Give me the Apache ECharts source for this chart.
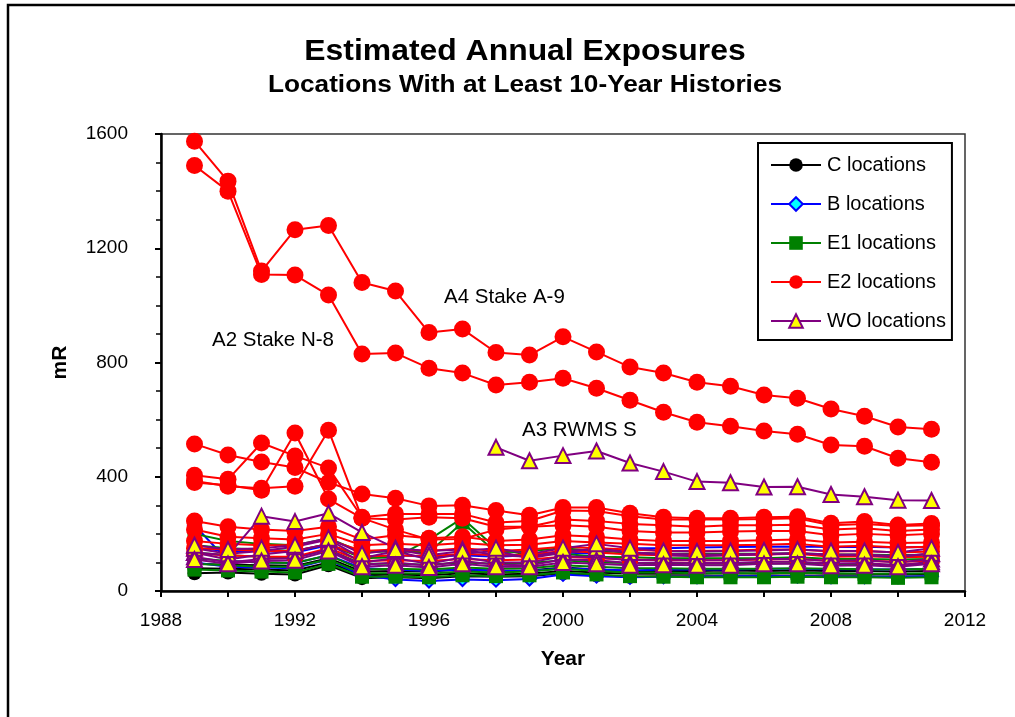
<!DOCTYPE html>
<html>
<head>
<meta charset="utf-8">
<script src="https://cdn.jsdelivr.net/npm/echarts@6/dist/echarts.min.js"></script>
<style>
  html, body { margin: 0; padding: 0; background: #fff; }
  #chart { width: 1015px; height: 717px; }
</style>
</head>
<body>
<div id="chart"></div>
<script>
// Sampling years
const years = [1989, 1990, 1991, 1992, 1993, 1994, 1995, 1996, 1997, 1998, 1999, 2000,
               2001, 2002, 2003, 2004, 2005, 2006, 2007, 2008, 2009, 2010, 2011];

// Annual exposure (mR) per location, grouped by area
const cLocations = [
  [62, 65, 60, 58, 90, 45, 48, 45, 52, 50, 52, 62, 55, 50, 52, 52, 52, 52, 52, 52, 52, 50, 52],
  [80, 78, 75, 72, 100, 55, 58, 55, 62, 58, 60, 70, 65, 60, 60, 60, 62, 60, 62, 60, 60, 58, 60],
  [95, 92, 90, 88, 115, 68, 70, 68, 75, 70, 72, 82, 75, 70, 70, 70, 72, 70, 72, 70, 70, 68, 70]
];
const bLocations = [
  [230, 105, 100, 98, 125, 80, 75, 70, 75, 72, 70, 80, 75, 72, 75, 75, 75, 78, 78, 76, 76, 75, 78],
  [100, 85, 82, 80, 110, 55, 40, 35, 40, 38, 42, 58, 52, 48, 50, 50, 52, 52, 52, 50, 50, 50, 52],
  [150, 140, 140, 135, 160, 120, 125, 120, 125, 120, 125, 135, 130, 150, 150, 152, 154, 155, 156, 154, 155, 152, 155]
];
const e1Locations = [
  [75, 72, 68, 65, 95, 50, 50, 48, 55, 52, 55, 65, 58, 52, 50, 48, 48, 48, 50, 48, 48, 46, 48],
  [95, 90, 85, 85, 110, 62, 62, 60, 68, 65, 68, 78, 70, 65, 65, 62, 62, 62, 64, 62, 60, 60, 62],
  [115, 105, 100, 98, 125, 75, 78, 75, 82, 78, 80, 90, 85, 80, 80, 78, 78, 78, 80, 78, 76, 75, 78],
  [135, 125, 120, 118, 145, 95, 95, 92, 100, 95, 98, 108, 100, 98, 98, 95, 95, 95, 98, 95, 92, 92, 95],
  [160, 150, 145, 140, 165, 115, 118, 180, 255, 150, 125, 130, 120, 118, 115, 115, 115, 115, 118, 112, 112, 110, 112],
  [200, 175, 165, 160, 185, 135, 140, 135, 240, 135, 140, 150, 140, 135, 130, 130, 130, 130, 132, 128, 128, 125, 128]
];
const e2Locations = [
  // A4 Stake A-9
  [1575, 1435, 1120, 1265, 1280, 1080, 1050, 905, 917, 835, 826, 890, 837, 784, 763, 731, 717, 686, 675, 637, 612, 574, 566],
  // A2 Stake N-8
  [1490, 1400, 1108, 1106, 1036, 830, 833, 780, 763, 721, 731, 745, 710, 668, 626, 591, 577, 560, 549, 511, 507, 465, 451],
  [515, 476, 452, 432, 380, 340, 325, 298, 300, 282, 265, 292, 292, 272, 258, 255, 255, 258, 260, 237, 243, 231, 236],
  [405, 391, 518, 473, 431, 258, 270, 270, 270, 240, 245, 282, 280, 262, 250, 250, 250, 252, 255, 230, 235, 228, 230],
  [380, 370, 353, 553, 322, 255, 250, 258, 255, 225, 225, 250, 245, 235, 230, 225, 230, 230, 232, 215, 220, 210, 215],
  [385, 367, 360, 367, 563, 255, 215, 180, 182, 215, 225, 230, 225, 210, 205, 205, 208, 210, 210, 195, 200, 195, 200],
  [245, 225, 215, 210, 225, 180, 195, 185, 190, 175, 180, 195, 190, 180, 175, 175, 175, 178, 180, 170, 172, 168, 170],
  [215, 190, 185, 180, 200, 160, 165, 160, 168, 160, 162, 175, 170, 165, 160, 160, 160, 162, 165, 155, 158, 152, 155],
  [175, 165, 160, 160, 180, 140, 145, 140, 150, 140, 145, 155, 150, 145, 140, 140, 142, 145, 145, 138, 140, 135, 138],
  [150, 145, 140, 140, 165, 120, 125, 122, 130, 125, 128, 140, 135, 128, 125, 125, 125, 128, 130, 120, 122, 118, 120],
  [130, 125, 120, 120, 150, 105, 108, 105, 112, 108, 110, 120, 115, 110, 108, 108, 108, 110, 112, 105, 106, 102, 105]
];
const woLocations = [
  // A3 RWMS S
  [null, null, null, null, null, null, null, null, null, 503, 456, 474, 490, 448, 418, 383, 379, 364, 365, 338, 330, 318, 317],
  [135, 125, 262, 243, 272, 205, 150, 140, 145, 125, 120, 140, 145, 135, 130, 128, 128, 130, 132, 128, 128, 122, 130],
  [135, 110, 128, 140, 165, 100, 115, 95, 118, 100, 100, 122, 118, 108, 110, 108, 108, 112, 112, 105, 108, 100, 112],
  [150, 130, 140, 155, 180, 115, 140, 110, 130, 140, 115, 135, 150, 135, 125, 122, 125, 128, 132, 125, 125, 118, 132],
  [120, 100, 112, 115, 145, 92, 100, 88, 105, 92, 90, 110, 108, 98, 100, 98, 98, 102, 102, 96, 98, 90, 102],
  [160, 145, 150, 160, 185, 130, 145, 125, 140, 150, 130, 150, 165, 150, 140, 138, 140, 142, 145, 140, 140, 135, 150],
  [110, 95, 105, 108, 140, 85, 90, 82, 95, 85, 85, 100, 95, 90, 92, 90, 90, 95, 95, 88, 90, 85, 95]
];

const xTicks = [1988, 1992, 1996, 2000, 2004, 2008, 2012];
const yTicks = [0, 400, 800, 1200, 1600];

const groups = [
  { name: 'C locations',  rows: cLocations,  line: '#000000', symbol: 'circle',   size: 14, fill: '#000000', border: null },
  { name: 'B locations',  rows: bLocations,  line: '#0000ff', symbol: 'diamond',  size: 13, fill: '#00ffff', border: '#0000ff' },
  { name: 'E1 locations', rows: e1Locations, line: '#008000', symbol: 'rect',     size: 14, fill: '#008000', border: null },
  { name: 'E2 locations', rows: e2Locations, line: '#ff0000', symbol: 'circle',   size: 17, fill: '#ff0000', border: null },
  { name: 'WO locations', rows: woLocations, line: '#800080', symbol: 'triangle', size: 15, fill: '#ffff00', border: '#800080' }
];

const series = [];
groups.forEach(g => {
  g.rows.forEach(row => {
    series.push({
      name: g.name,
      type: 'line',
      data: row.map((v, i) => [years[i], v]),
      symbol: g.symbol,
      symbolSize: g.size,
      showAllSymbol: true,
      connectNulls: false,
      lineStyle: { color: g.line, width: 2 },
      itemStyle: {
        color: g.fill,
        borderColor: g.border || g.fill,
        borderWidth: g.border ? 2 : 0
      },
      emphasis: { disabled: true },
      animation: false
    });
  });
});

const FONT = '"Liberation Sans", Arial, sans-serif';
const chart = echarts.init(document.getElementById('chart'), null, { renderer: 'canvas' });

chart.setOption({
  backgroundColor: '#ffffff',
  animation: false,
  grid: {
    left: 161, right: 50, top: 134, bottom: 126,
    show: true, borderColor: '#333', borderWidth: 1.5, backgroundColor: 'transparent'
  },
  legend: {
    data: groups.map(g => g.name),
    orient: 'vertical',
    left: 758, top: 143,
    padding: [12, 6, 9, 12],
    itemWidth: 50, itemHeight: 17, itemGap: 19,
    borderColor: '#000', borderWidth: 2,
    backgroundColor: '#fff',
    textStyle: { fontFamily: FONT, fontSize: 20, color: '#000', padding: [0, 0, 0, 1] },
    selectedMode: false
  },
  xAxis: {
    type: 'value',
    min: 1988, max: 2012, interval: 2,
    name: 'Year', nameLocation: 'middle', nameGap: 58,
    nameTextStyle: { fontFamily: FONT, fontSize: 21, fontWeight: 'bold', color: '#000' },
    axisLine: { show: true, onZero: false, lineStyle: { color: '#000', width: 2.5 } },
    axisTick: { show: true, inside: false, length: 6, lineStyle: { color: '#000', width: 2 } },
    axisLabel: {
      fontFamily: FONT, fontSize: 19, color: '#000', margin: 20,
      formatter: v => (xTicks.indexOf(v) >= 0 ? String(v) : '')
    },
    splitLine: { show: false }
  },
  yAxis: {
    type: 'value',
    min: 0, max: 1600, interval: 400,
    name: 'mR', nameLocation: 'middle', nameGap: 90, nameRotate: 90,
    nameTextStyle: { fontFamily: FONT, fontSize: 21, fontWeight: 'bold', color: '#000' },
    axisLine: { show: true, lineStyle: { color: '#000', width: 2.5 } },
    axisTick: { show: true, inside: false, length: 6, lineStyle: { color: '#000', width: 2 } },
    minorTick: { show: true, splitNumber: 4, length: 5, lineStyle: { color: '#000', width: 1.5 } },
    axisLabel: {
      fontFamily: FONT, fontSize: 19, color: '#000', margin: 33,
      formatter: v => (yTicks.indexOf(v) >= 0 ? String(v) : '')
    },
    splitLine: { show: false }
  },
  graphic: [
    {
      type: 'rect', silent: true, z: -10,
      shape: { x: 8, y: 5, width: 1100, height: 800 },
      style: { fill: 'none', stroke: '#000', lineWidth: 2.5 }
    },
    {
      type: 'text', x: 525, y: 52, scaleX: 1.1, silent: true,
      style: { text: 'Estimated Annual Exposures', font: 'bold 29px ' + FONT, fill: '#000', align: 'center', verticalAlign: 'middle' }
    },
    {
      type: 'text', x: 525, y: 86, scaleX: 1.14, silent: true,
      style: { text: 'Locations With at Least 10-Year Histories', font: 'bold 23px ' + FONT, fill: '#000', align: 'center', verticalAlign: 'middle' }
    },
    {
      type: 'text', x: 444, y: 297, silent: true,
      style: { text: 'A4 Stake A-9', font: '20.5px ' + FONT, fill: '#000', align: 'left', verticalAlign: 'middle' }
    },
    {
      type: 'text', x: 212, y: 340, silent: true,
      style: { text: 'A2 Stake N-8', font: '20.5px ' + FONT, fill: '#000', align: 'left', verticalAlign: 'middle' }
    },
    {
      type: 'text', x: 522, y: 430, silent: true,
      style: { text: 'A3 RWMS S', font: '20.5px ' + FONT, fill: '#000', align: 'left', verticalAlign: 'middle' }
    }
  ],
  series: series
});
</script>
</body>
</html>
